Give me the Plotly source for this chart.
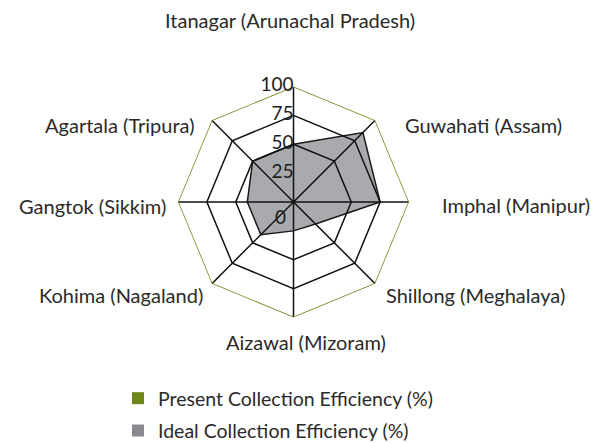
import plotly.graph_objects as go

# Capital cities of the north-eastern states
cities = [
    "Itanagar (Arunachal Pradesh)",
    "Guwahati (Assam)",
    "Imphal (Manipur)",
    "Shillong (Meghalaya)",
    "Aizawal (Mizoram)",
    "Kohima (Nagaland)",
    "Gangtok (Sikkim)",
    "Agartala (Tripura)",
]

# Collection efficiency (%) per city
present_efficiency = [100, 100, 100, 100, 100, 100, 100, 100]
ideal_efficiency = [50, 85, 75, 27, 25, 40, 40, 50]

radial_ticks = [0, 25, 50, 75, 100]
radial_tick_labels = ["0", "25", "50", "75", "100"]
ring_levels = [50, 75]

series_names = ["Present Collection Efficiency (%)", "Ideal Collection Efficiency (%)"]

GREEN = "#6f861a"
GRAY_FILL = "#a9aaae"
GRAY_KEY = "#898a8f"
INK = "#2a2a2a"
FONT = "Lato"
LINE_W = 1.5

W, H = 591, 443
POLAR_X = [178 / W, 409 / W]
POLAR_Y = [1 - 317.5 / H, 1 - 86.5 / H]


def closed(values):
    return list(values) + [values[0]]


theta_closed = closed(cities)

fig = go.Figure()

# filled polygon of the city values
fig.add_trace(go.Scatterpolar(
    r=closed(ideal_efficiency), theta=theta_closed,
    mode="lines", fill="toself", fillcolor=GRAY_FILL,
    line=dict(color="#1a1a1a", width=LINE_W),
    showlegend=False, hoverinfo="skip",
))

# inner rings of the web
for level in ring_levels:
    fig.add_trace(go.Scatterpolar(
        r=closed([level] * len(cities)), theta=theta_closed,
        mode="lines", line=dict(color="#111111", width=LINE_W),
        showlegend=False, hoverinfo="skip",
    ))

# spokes from the centre to the outer ring
for city in cities:
    fig.add_trace(go.Scatterpolar(
        r=[radial_ticks[0], radial_ticks[-1]], theta=[city, city],
        mode="lines", line=dict(color="#111111", width=LINE_W),
        showlegend=False, hoverinfo="skip",
    ))

# outer green ring
fig.add_trace(go.Scatterpolar(
    r=closed(present_efficiency), theta=theta_closed,
    mode="lines", line=dict(color=GREEN, width=LINE_W),
    showlegend=False, hoverinfo="skip",
))

# scale labels beside the rings on the vertical spoke
tick_font = dict(family=FONT, size=19, color="#1e1e1e")
fig.add_trace(go.Scatterpolar(
    r=radial_ticks[1:], theta=[cities[0]] * (len(radial_ticks) - 1),
    mode="text", text=radial_tick_labels[1:], textposition="middle left",
    textfont=tick_font, cliponaxis=False,
    showlegend=False, hoverinfo="skip",
))

# origin label just below-left of the web centre
fig.add_annotation(
    text=radial_tick_labels[0],
    x=sum(POLAR_X) / 2, y=sum(POLAR_Y) / 2, xref="paper", yref="paper",
    xanchor="right", yanchor="top", xshift=-6, yshift=-1,
    showarrow=False, font=tick_font,
)

# square legend keys
for name, colour, group in [(series_names[0], GREEN, "a"), (series_names[1], GRAY_KEY, "b")]:
    fig.add_trace(go.Scatterpolar(
        r=[None], theta=[cities[0]], mode="markers", name=name,
        legendgroup=group,
        marker=dict(symbol="square", size=12, color=colour),
    ))

# city labels placed around the web (x px, y centre px, anchor)
label_spots = [
    (289.5, 20, "center"),
    (403, 125, "left"),
    (440, 205, "left"),
    (384, 295, "left"),
    (305.5, 342, "center"),
    (205, 295, "right"),
    (168, 206, "right"),
    (197, 125, "right"),
]
for city, (px, py, anchor) in zip(cities, label_spots):
    fig.add_annotation(
        text=city, x=px / W, y=1 - py / H, xref="paper", yref="paper",
        xanchor=anchor, yanchor="middle", showarrow=False,
        font=dict(family=FONT, size=20, color=INK),
    )

fig.update_layout(
    width=W, height=H,
    margin=dict(l=0, r=0, t=0, b=0, autoexpand=False),
    paper_bgcolor="white",
    font=dict(family=FONT, color=INK),
    showlegend=True,
    legend=dict(
        x=118 / W, y=1 - 379 / H, xanchor="left", yanchor="top",
        font=dict(family=FONT, size=19.5, color=INK),
        tracegroupgap=4, bgcolor="rgba(0,0,0,0)",
    ),
    polar=dict(
        domain=dict(x=POLAR_X, y=POLAR_Y),
        bgcolor="white",
        gridshape="linear",
        radialaxis=dict(
            range=[0, 100], showgrid=False, showline=False, ticks="",
            showticklabels=False, angle=90,
        ),
        angularaxis=dict(
            categoryorder="array", categoryarray=cities,
            rotation=90, direction="clockwise",
            showgrid=False, showline=False, ticks="", showticklabels=False,
        ),
    ),
)

fig.write_html("out.html")
